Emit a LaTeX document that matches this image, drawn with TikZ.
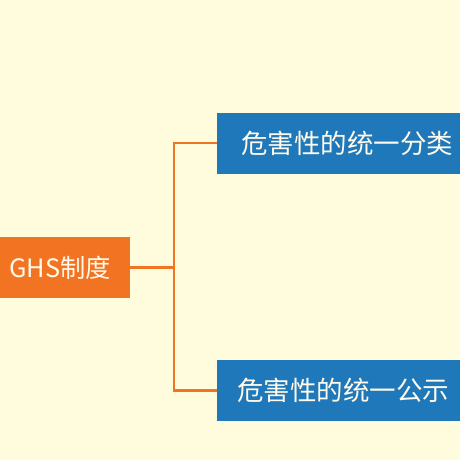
\documentclass[tikz,border=0pt]{standalone}
\usepackage{fontspec}
\setmainfont{Noto Sans CJK SC}
\definecolor{bgc}{RGB}{255,252,222}
\definecolor{orangec}{RGB}{242,115,33}
\definecolor{bluec}{RGB}{31,120,186}
\definecolor{txtc}{RGB}{255,250,235}
\tikzset{
  rootbox/.style={fill=orangec, text=txtc, minimum width=140pt, minimum height=61pt, inner sep=0pt, font=\fontsize{25.3}{30}\selectfont},
  leafbox/.style={fill=bluec, text=txtc, minimum height=61pt, inner sep=0pt, font=\fontsize{26.5}{31}\selectfont},
  link/.style={draw=orangec, line width=2.2pt}
}
\begin{document}
\begin{tikzpicture}[x=1pt,y=-1pt]
\useasboundingbox (0,0) rectangle (460,460);
\fill[bgc] (0,0) rectangle (460,460);
\node[rootbox] (root) at (60,267.5) {GHS制度};
\node[leafbox, minimum width=260pt] (top) at (347,143) {危害性的统一分类};
\node[leafbox, minimum width=252pt] (bot) at (343,390.5) {危害性的统一公示};
\draw[link] (root.east) -- ++(43.5,0) coordinate (j);
\draw[link] (j) |- (top.west);
\draw[link] (j) |- (bot.west);
\end{tikzpicture}
\end{document}
